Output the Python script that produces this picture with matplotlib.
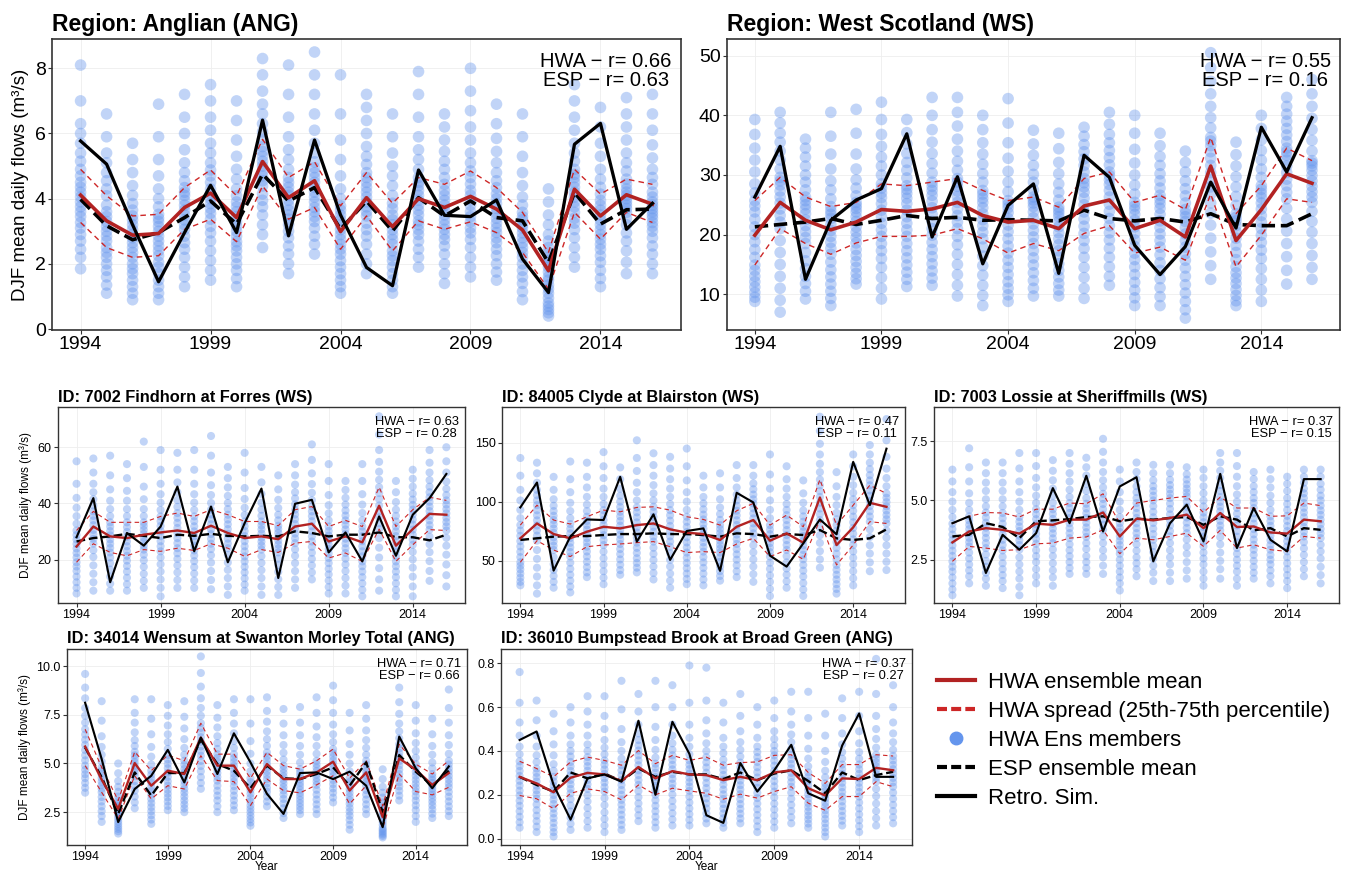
import matplotlib
matplotlib.use("Agg")
import matplotlib.pyplot as plt
from matplotlib.lines import Line2D
from matplotlib.ticker import FormatStrFormatter

plt.rcParams['font.family'] = ['Liberation Sans', 'DejaVu Sans']

years = list(range(1994, 2017))
xticks = [1994, 1999, 2004, 2009, 2014]

# ---- Region: Anglian (ANG)
ang_retro = [5.77, 5.06, 3.2, 1.45, 2.96, 4.41, 2.96, 6.41, 2.86, 5.80, 3.5, 1.89, 1.33,
             4.88, 3.49, 3.45, 3.96, 2.15, 1.12, 5.67, 6.31, 3.06, 3.86]
ang_hwa = [4.11, 3.32, 2.88, 2.93, 3.73, 4.17, 3.42, 5.14, 4.03, 4.55, 2.99, 4.03, 3.14,
           4.0, 3.73, 4.07, 3.68, 3.04, 1.79, 4.29, 3.47, 4.12, 3.83]
ang_esp = [3.98, 3.17, 2.74, 2.96, 3.42, 3.93, 3.22, 4.75, 3.93, 4.34, 3.06, 3.93, 3.01,
           4.03, 3.47, 3.93, 3.42, 3.32, 2.04, 4.19, 3.22, 3.66, 3.68]
ang_q75 = [4.9, 4.09, 3.47, 3.52, 4.34, 4.88, 4.09, 5.82, 4.65, 5.13, 3.78, 4.8, 3.86,
           4.65, 4.44, 4.85, 4.34, 3.58, 2.35, 4.9, 4.14, 4.6, 4.44]
ang_q25 = [3.27, 2.5, 2.2, 2.25, 3.06, 3.37, 2.68, 4.39, 3.37, 3.73, 2.45, 3.47, 2.4,
           3.32, 3.06, 3.29, 2.96, 2.35, 1.23, 3.58, 2.76, 3.58, 3.27]
ang_members = [
    "1.85 2.2 2.45 2.7 2.9 3.1 3.27 3.45 3.6 3.75 3.9 4.05 4.2 4.35 4.5 4.7 4.9 5.15 5.4 5.7 6.0 6.3 7.0 8.1",
    "1.1 1.35 1.6 1.8 2.0 2.2 2.35 2.5 2.7 2.85 3.0 3.15 3.3 3.45 3.6 3.8 4.09 4.3 4.55 4.8 5.1 5.4 5.9 6.6",
    "0.9 1.1 1.3 1.5 1.7 1.85 2.0 2.2 2.35 2.5 2.65 2.8 2.9 3.05 3.2 3.35 3.47 3.65 3.85 4.1 4.4 4.8 5.2 5.7",
    "0.9 1.1 1.3 1.5 1.7 1.9 2.05 2.25 2.4 2.55 2.7 2.85 3.0 3.15 3.3 3.4 3.52 3.75 4.0 4.3 4.7 5.2 5.9 6.9",
    "1.3 1.6 1.9 2.2 2.45 2.65 2.85 3.06 3.2 3.35 3.5 3.65 3.8 3.95 4.1 4.2 4.34 4.55 4.8 5.1 5.5 6.0 6.5 7.2",
    "1.5 1.8 2.1 2.4 2.7 2.95 3.15 3.37 3.55 3.7 3.85 4.0 4.15 4.3 4.5 4.7 4.88 5.1 5.4 5.7 6.1 6.5 7.0 7.5",
    "1.3 1.55 1.8 2.0 2.2 2.4 2.55 2.68 2.85 3.0 3.15 3.3 3.45 3.6 3.75 3.9 4.09 4.3 4.6 4.9 5.3 5.8 6.4 7.0",
    "2.5 2.9 3.2 3.5 3.75 3.95 4.15 4.39 4.55 4.7 4.85 5.0 5.15 5.3 5.45 5.6 5.82 6.05 6.3 6.6 6.9 7.3 7.8 8.3",
    "1.7 2.0 2.3 2.55 2.8 3.0 3.2 3.37 3.5 3.65 3.8 3.95 4.1 4.2 4.35 4.5 4.65 4.9 5.2 5.5 5.9 6.5 7.2 8.1",
    "2.3 2.6 2.85 3.1 3.3 3.45 3.6 3.73 3.9 4.05 4.2 4.35 4.5 4.65 4.8 4.95 5.13 5.4 5.7 6.1 6.6 7.2 7.8 8.5",
    "1.1 1.3 1.5 1.7 1.9 2.1 2.3 2.45 2.6 2.75 2.9 3.05 3.2 3.35 3.5 3.65 3.78 4.0 4.3 4.7 5.2 5.8 6.6 7.8",
    "1.7 2.0 2.3 2.6 2.85 3.05 3.25 3.47 3.6 3.75 3.9 4.05 4.2 4.35 4.5 4.65 4.8 5.05 5.3 5.6 6.0 6.4 6.8 7.2",
    "1.1 1.3 1.5 1.7 1.9 2.1 2.25 2.4 2.6 2.75 2.9 3.05 3.2 3.35 3.5 3.7 3.86 4.1 4.4 4.7 5.0 5.4 5.9 6.6",
    "1.9 2.2 2.45 2.7 2.9 3.05 3.2 3.32 3.5 3.65 3.8 3.95 4.1 4.25 4.4 4.5 4.65 4.9 5.2 5.5 5.9 6.5 7.2 7.9",
    "1.4 1.7 2.0 2.3 2.55 2.75 2.9 3.06 3.2 3.35 3.5 3.65 3.8 3.95 4.1 4.25 4.44 4.65 4.9 5.15 5.45 5.8 6.2 6.6",
    "1.6 1.9 2.2 2.5 2.75 2.95 3.1 3.29 3.45 3.6 3.8 3.95 4.1 4.25 4.45 4.65 4.85 5.1 5.4 5.8 6.2 6.7 7.3 8.0",
    "1.5 1.75 2.0 2.25 2.45 2.65 2.8 2.96 3.1 3.25 3.4 3.55 3.7 3.85 4.0 4.15 4.34 4.55 4.8 5.1 5.45 5.85 6.3 6.9",
    "0.9 1.15 1.4 1.6 1.8 2.0 2.2 2.35 2.5 2.65 2.8 2.95 3.1 3.2 3.35 3.45 3.58 3.8 4.05 4.4 4.8 5.3 5.9 6.6",
    "0.4 0.5 0.6 0.7 0.8 0.95 1.1 1.23 1.35 1.5 1.6 1.75 1.9 2.0 2.1 2.2 2.35 2.5 2.7 2.9 3.2 3.5 3.9 4.3",
    "1.9 2.2 2.5 2.8 3.05 3.25 3.4 3.58 3.75 3.9 4.05 4.2 4.35 4.5 4.65 4.75 4.9 5.15 5.4 5.7 6.1 6.5 7.0 7.5",
    "1.3 1.55 1.8 2.05 2.25 2.45 2.6 2.76 2.9 3.05 3.2 3.35 3.5 3.65 3.8 3.95 4.14 4.35 4.6 4.9 5.3 5.7 6.2 6.8",
    "1.7 2.05 2.4 2.7 2.95 3.2 3.4 3.58 3.7 3.8 3.9 4.0 4.1 4.2 4.3 4.45 4.6 4.85 5.1 5.4 5.8 6.2 6.6 7.1",
    "1.7 2.0 2.3 2.55 2.8 3.0 3.15 3.27 3.4 3.5 3.6 3.7 3.8 3.9 4.05 4.2 4.44 4.65 4.9 5.25 5.65 6.1 6.6 7.2",
]

# ---- Region: West Scotland (WS)
ws_retro = [26.3, 34.8, 12.5, 22.4, 25.8, 27.7, 36.9, 19.6, 29.7, 15.1, 24.9, 28.5, 13.5,
            33.3, 29.6, 18.2, 13.3, 18.0, 28.8, 21.1, 38.0, 30.5, 39.6]
ws_hwa = [19.9, 25.4, 22.4, 20.8, 22.1, 24.2, 23.9, 24.3, 25.4, 23.2, 22.1, 22.4, 21.0,
          24.8, 25.8, 21.0, 22.4, 19.6, 31.5, 19.0, 24.2, 30.2, 28.6]
ws_esp = [21.3, 21.7, 22.1, 22.7, 21.7, 22.4, 23.2, 22.7, 22.9, 22.4, 22.5, 22.4, 22.3,
          24.1, 22.7, 22.3, 22.7, 22.1, 23.5, 21.7, 21.5, 21.5, 23.5]
ws_q75 = [25.7, 29.6, 26.3, 24.7, 25.4, 28.5, 28.2, 28.8, 29.4, 27.4, 25.7, 26.3, 24.6,
          29.4, 30.5, 25.4, 26.6, 24.2, 36.3, 23.5, 28.2, 34.5, 32.4]
ws_q25 = [14.9, 21.0, 18.5, 16.7, 18.6, 19.7, 19.7, 19.9, 21.0, 19.3, 16.9, 18.5, 17.3,
          20.2, 21.5, 16.9, 17.9, 15.7, 26.8, 14.6, 19.9, 26.0, 25.4]
ws_members = [
    "8.8 9.5 10.3 11.2 12.1 13 14 14.9 16.2 17.5 18.8 20 21.3 22.6 23.8 24.8 25.7 27 28.5 30.5 32.5 34.5 36.8 39.3",
    "7 9 11 13 15 17 19 21 22.1 23.2 24.3 25.3 26.3 27.3 28.3 29 29.6 31 32.5 34 35.5 37 38.7 40.5",
    "9.2 10.5 11.8 13 14.3 15.6 17 18.5 19.5 20.5 21.5 22.5 23.5 24.3 25 25.7 26.3 27.5 28.8 30 31.5 33 34.5 36",
    "8.1 9.3 10.5 11.7 12.9 14.1 15.4 16.7 17.7 18.7 19.7 20.7 21.7 22.7 23.4 24 24.7 26 27.5 29 31 33.5 36.5 40.5",
    "11.7 12.6 13.5 14.5 15.5 16.5 17.5 18.6 19.5 20.4 21.3 22.2 23 23.8 24.4 24.9 25.4 26.5 27.8 29.2 31 33.5 37 41",
    "9.2 11 12.8 14.5 16 17.3 18.5 19.7 20.8 21.9 23 24.1 25.2 26.2 27 27.8 28.5 30 31.5 33 34.8 36.8 39.3 42.2",
    "11.3 12.5 13.7 14.9 16.1 17.3 18.5 19.7 20.8 21.9 23 24.1 25.2 26.1 26.9 27.6 28.2 29.5 30.8 32.1 33.6 35.2 37.1 39.3",
    "11.5 12.7 13.9 15.1 16.3 17.5 18.7 19.9 21 22.2 23.4 24.5 25.6 26.6 27.4 28.1 28.8 30.3 31.9 33.6 35.5 37.6 40 43",
    "9.7 11.5 13.3 15 16.7 18.3 19.7 21 22.1 23.2 24.3 25.4 26.4 27.3 28.1 28.8 29.4 30.8 32.3 34 36 38.2 40.5 43",
    "8.1 9.8 11.5 13.2 14.8 16.4 17.9 19.3 20.4 21.5 22.5 23.5 24.5 25.4 26.1 26.8 27.4 28.8 30.2 31.8 33.5 35.4 37.6 40",
    "8.8 9.9 11 12.1 13.3 14.5 15.7 16.9 18.1 19.3 20.5 21.6 22.7 23.7 24.5 25.1 25.7 27.2 28.8 30.6 32.8 35.4 38.7 42.8",
    "9.7 11 12.3 13.6 14.9 16.1 17.3 18.5 19.6 20.7 21.8 22.8 23.8 24.7 25.3 25.8 26.3 27.5 28.8 30.1 31.6 33.3 35.2 37.5",
    "9.7 10.7 11.8 12.9 14 15.1 16.2 17.3 18.3 19.3 20.3 21.3 22.2 23 23.6 24.1 24.6 25.8 27.1 28.5 30.2 32.1 34.4 37",
    "9.3 11 12.8 14.5 16.2 17.7 19 20.2 21.4 22.6 23.8 25 26.1 27.1 28 28.7 29.4 30.5 31.6 32.7 33.9 35.1 36.5 38",
    "11.5 13 14.6 16.2 17.7 19.1 20.3 21.5 22.7 23.9 25.1 26.3 27.4 28.4 29.2 29.9 30.5 31.7 32.9 34.1 35.4 36.8 38.5 40.5",
    "8.1 9.4 10.7 12 13.3 14.6 15.8 16.9 18 19.1 20.2 21.3 22.4 23.4 24.2 24.8 25.4 26.8 28.3 30 32 34.3 37 40",
    "8.1 9.6 11.1 12.6 14 15.3 16.6 17.9 19 20.1 21.2 22.3 23.4 24.4 25.2 25.9 26.6 27.8 29 30.2 31.6 33.1 34.9 37",
    "6 7.4 8.8 10.2 11.6 13 14.4 15.7 16.8 17.9 19 20.1 21.2 22.2 23 23.6 24.2 25.3 26.5 27.7 29 30.5 32.1 34",
    "12.5 14.8 17.1 19.4 21.6 23.6 25.3 26.8 28 29.2 30.4 31.6 32.8 33.9 34.9 35.7 36.3 37.9 39.6 41.5 43.6 45.7 48 50.5",
    "8.1 8.9 9.8 10.8 11.8 12.7 13.6 14.6 15.8 17 18.2 19.4 20.5 21.5 22.3 22.9 23.5 24.9 26.4 28 29.7 31.5 33.4 35.5",
    "8.8 10.7 12.5 14.3 16 17.4 18.7 19.9 21 22.1 23.2 24.3 25.3 26.2 26.9 27.6 28.2 29.6 31 32.5 34.1 35.9 37.8 40",
    "11.7 14 16.3 18.5 20.6 22.6 24.4 26 27.1 28.2 29.3 30.4 31.5 32.5 33.3 33.9 34.5 35.6 36.7 37.8 39 40.2 41.5 43",
    "12.5 14.5 16.5 18.5 20.4 22.2 23.9 25.4 26.3 27.2 28.1 29 29.9 30.8 31.5 32 32.4 34 35.8 37.6 39.5 41.5 43.6 46",
]

# ---- ID: 7002 Findhorn at Forres (WS)
fin_retro = [28.0, 41.9, 12.0, 29.5, 25.0, 31.8, 46.0, 23.0, 38.9, 19.1, 33.0, 45.3, 13.5,
             39.9, 41.3, 22.6, 29.7, 19.4, 35.4, 21.4, 36.0, 41.9, 50.5]
fin_hwa = [24.7, 31.8, 28.3, 27.7, 28.9, 29.7, 30.4, 29.5, 32.1, 29.5, 27.7, 28.3, 27.3,
           31.8, 32.8, 26.5, 28.3, 26.2, 39.2, 25.0, 30.9, 36.3, 36.0]
fin_esp = [26.5, 27.7, 28.3, 29.2, 28.5, 27.7, 28.9, 28.5, 29.2, 28.5, 28.3, 28.5, 28.3,
           30.1, 29.5, 28.3, 28.9, 28.9, 29.7, 28.0, 28.0, 26.9, 28.9]
fin_q75 = [30.4, 37.2, 33.3, 33.3, 33.3, 35.4, 36.6, 35.4, 37.8, 36.0, 33.6, 33.6, 32.1,
           37.8, 38.9, 31.8, 34.0, 31.8, 45.8, 31.8, 37.8, 42.2, 41.1]
fin_q25 = [19.1, 25.7, 22.6, 21.4, 23.6, 23.0, 24.1, 23.3, 25.7, 24.1, 21.2, 23.6, 22.6,
           25.9, 26.5, 20.6, 22.4, 19.4, 30.9, 19.4, 25.3, 30.7, 30.4]
fin_members = [
    "8 10 12 14 16 17.6 19.1 20.8 22.4 24 25.6 27.2 28.8 30.4 32.8 35.5 38.5 42 47 55",
    "9 12 15 18 21 23.4 25.7 27.4 29 30.6 32.3 34 35.6 37.2 39.3 41.5 44 47 51 56",
    "9 11.5 14 16.5 18.8 20.8 22.6 24.2 25.7 27.2 28.7 30.2 31.8 33.3 35.5 38 41 45 50 57",
    "9 11.3 13.6 15.8 17.8 19.7 21.4 23.1 24.8 26.5 28.2 29.9 31.6 33.3 35.5 38 41 44.5 49 54",
    "10 12.5 15 17.5 19.8 21.8 23.6 25 26.4 27.8 29.2 30.6 32 33.3 35.5 38 41.5 46 53 62",
    "7 10 13 15.8 18.4 20.8 23 24.8 26.6 28.4 30.2 32 33.7 35.4 37.7 40.3 43.3 47 52 59",
    "10 12.8 15.5 18 20.3 22.3 24.1 25.9 27.7 29.5 31.3 33.1 34.9 36.6 38.8 41.2 44 47.5 52 58",
    "10 12.6 15.1 17.4 19.5 21.5 23.3 25 26.7 28.4 30.1 31.9 33.7 35.4 37.7 40.3 43.3 47 52 59",
    "9.5 12.8 16 19 21.6 23.8 25.7 27.4 29.1 30.8 32.6 34.4 36.1 37.8 40.2 43 46.5 51 57 64",
    "7.5 10.5 13.5 16.4 19 21.7 24.1 25.8 27.5 29.2 30.9 32.6 34.3 36 38 40.2 42.7 45.7 49 53",
    "9 11.2 13.4 15.5 17.5 19.4 21.2 23 24.8 26.6 28.4 30.2 31.9 33.6 35.9 38.5 41.6 45.5 51 58",
    "7.5 10.5 13.5 16.3 18.9 21.3 23.6 25 26.4 27.8 29.3 30.8 32.2 33.6 35.6 37.8 40.3 43.4 47.5 53",
    "7.5 10.3 13.1 15.7 18.1 20.4 22.6 24 25.4 26.8 28.2 29.6 30.9 32.1 34 36 38.4 41.3 45 50",
    "10 13 16 18.8 21.4 23.7 25.9 27.6 29.3 31 32.7 34.4 36.1 37.8 39.7 41.8 44 46.7 50 54",
    "13 15.5 18 20.3 22.5 24.6 26.5 28.3 30.1 31.9 33.7 35.5 37.2 38.9 41.2 43.8 46.9 50.7 55.5 61",
    "8 10.3 12.6 14.8 16.8 18.8 20.6 22.2 23.8 25.4 27 28.6 30.2 31.8 34 36.5 39.4 43 48 54",
    "8 10.8 13.5 16 18.3 20.4 22.4 24.1 25.8 27.5 29.2 30.8 32.4 34 35.7 37.5 39.6 42 44.8 48",
    "7 9.3 11.6 13.8 15.8 17.7 19.4 21.2 23 24.8 26.6 28.4 30.1 31.8 34 36.6 39.6 43.3 48 54",
    "9 13 17 20.8 24.3 27.7 30.9 33 35.1 37.2 39.3 41.5 43.7 45.8 48.4 51.3 54.8 59 64.5 71",
    "7 9.3 11.6 13.8 15.8 17.7 19.4 21.2 23 24.8 26.6 28.4 30.1 31.8 33.6 35.6 37.8 40.5 44 48",
    "7 10.5 14 17.2 20.1 22.8 25.3 27.1 28.9 30.7 32.5 34.3 36.1 37.8 39.5 41.4 43.5 46 48.8 52",
    "12.5 16 19.5 22.7 25.5 28.2 30.7 32.3 34 35.6 37.3 38.9 40.6 42.2 44 46 48.3 51 54.5 59",
    "10.5 14.5 18.3 21.8 25 27.8 30.4 31.9 33.4 34.9 36.5 38 39.6 41.1 43 45.2 47.8 51 55 60",
]

# ---- ID: 84005 Clyde at Blairston (WS)
cly_retro = [95.1, 116.2, 41.5, 70.3, 84.9, 84.4, 121.0, 66.1, 89.2, 50.6, 75.1, 77.3, 41.3,
             107.5, 99.3, 54.2, 44.9, 64.6, 84.9, 72.3, 133.7, 97.0, 144.9]
cly_hwa = [68.9, 81.5, 72.5, 68.9, 74.5, 78.7, 77.3, 80.1, 81.5, 76.5, 73.7, 72.5, 67.5,
           78.7, 84.4, 66.9, 73.1, 65.2, 103.5, 63.2, 78.2, 99.0, 95.6]
cly_esp = [67.5, 68.9, 70.3, 70.8, 70.8, 71.7, 72.5, 72.5, 73.1, 72.5, 72.5, 71.7, 70.3,
           73.1, 72.5, 70.3, 72.5, 71.7, 75.9, 68.9, 67.5, 68.9, 76.5]
cly_q75 = [80.1, 97.0, 84.4, 81.0, 87.2, 92.8, 91.4, 95.1, 95.6, 92.8, 87.2, 84.9, 80.1,
           92.3, 98.5, 80.1, 88.6, 78.7, 118.7, 80.1, 97.0, 113.9, 106.9]
cly_q25 = [48.6, 66.9, 59.0, 53.4, 61.8, 63.2, 64.1, 65.2, 66.1, 61.8, 56.8, 57.6, 56.8,
           64.1, 68.9, 53.4, 59.0, 51.1, 84.4, 46.3, 63.2, 83.0, 81.5]
cly_members = [
    "29 32 35.5 39 42.5 45.6 48.6 53 57.5 62 66.5 71 75.5 80.1 86 93 101 110 122 137",
    "22 29 36.5 44 51.5 59 66.9 71.2 75.5 79.8 84.1 88.4 92.7 97 101 105.5 110 116 124 133",
    "27 32 37 42 47 53 59 62.6 66.2 69.8 73.5 77.2 80.8 84.4 88 92 96.5 102 110 121",
    "23 28 33 38 43 48.2 53.4 57.3 61.2 65.1 69.1 73.1 77 81 86 92 99 108 119 134",
    "36 40 44.5 49 53.5 57.7 61.8 65.4 69 72.6 76.3 80 83.6 87.2 92 97.5 104 112 121 133",
    "30 35.5 41 46.5 52 57.6 63.2 67.4 71.6 75.8 80.1 84.4 88.6 92.8 98 104 111 120 130 142",
    "38 42 46.5 51 55.5 59.8 64.1 68 71.9 75.8 79.7 83.6 87.5 91.4 95.5 100 105 111 119 129",
    "40 44 48 52 56.5 60.8 65.2 69.5 73.8 78.1 82.4 86.7 90.9 95.1 101 108 116 126 137 152",
    "34 39.5 45 50.5 55.7 60.9 66.1 70.3 74.5 78.7 82.9 87.1 91.4 95.6 101 107 114 122 131 141",
    "27 33 39 45 50.6 56.2 61.8 66.2 70.6 75 79.4 83.9 88.4 92.8 98 104 111 119 128 138",
    "30 34.5 39 43.5 48 52.4 56.8 61.1 65.4 69.8 74.2 78.6 82.9 87.2 93 100 108 118 130 145",
    "29 34 39 43.8 48.5 53 57.6 61.5 65.4 69.3 73.2 77.1 81 84.9 89 93.5 98.5 104 112 122",
    "33 37 41 45 49 52.9 56.8 60.1 63.4 66.8 70.1 73.4 76.8 80.1 84.5 89.5 95 102 112 124",
    "36 41 46 50.8 55.3 59.7 64.1 68.1 72.1 76.2 80.2 84.2 88.3 92.3 96.5 101 106 112 120 131",
    "32 38.5 45 51 57 63 68.9 73.1 77.4 81.6 85.8 90 94.3 98.5 102 106 110.5 115.5 122 131",
    "20 26 32 37.5 43 48.2 53.4 57.2 61 64.8 68.6 72.4 76.3 80.1 86 93 101 111 123 140",
    "27 32.5 38 43.3 48.5 53.8 59 63.2 67.4 71.7 75.9 80.1 84.4 88.6 93 98 104 111 119 130",
    "20 25.5 31 36.5 41.5 46.3 51.1 55 59 62.9 66.8 70.8 74.8 78.7 83 87.5 92.5 99 107 118",
    "44 51 58 65 71.5 78 84.4 89.3 94.2 99.1 104 108.9 113.8 118.7 125 132 140 149 160 172",
    "22 26 30 34 38 42.2 46.3 51.1 55.9 60.7 65.6 70.4 75.3 80.1 85 90.5 97 104 113 125",
    "29 35 41 46.8 52.4 57.8 63.2 68 72.8 77.7 82.5 87.3 92.2 97 102 107.5 114 121 130 140",
    "41 48.5 56 63 70 76.5 83 87.4 91.8 96.2 100.6 105 109.5 113.9 118 122.5 127.5 133 140 148",
    "42 49 56 63 69.5 75.5 81.5 85.1 88.7 92.4 96 99.6 103.3 106.9 113 120 128 138 152 170",
]

# ---- ID: 7003 Lossie at Sheriffmills (WS)
los_retro = [4.04, 4.33, 1.94, 3.55, 2.92, 3.62, 5.52, 4.04, 6.04, 3.69, 5.59, 5.98, 2.43,
             4.04, 4.82, 3.27, 6.12, 2.99, 4.68, 3.34, 2.85, 5.90, 5.90]
los_hwa = [3.23, 3.69, 3.83, 3.76, 3.60, 4.02, 3.97, 4.19, 4.19, 4.49, 3.48, 4.23, 4.16,
           4.26, 4.40, 3.83, 4.47, 3.88, 3.90, 3.65, 3.60, 4.19, 4.12]
los_esp = [3.48, 3.55, 4.04, 3.88, 3.41, 4.12, 4.16, 4.21, 4.30, 4.33, 4.12, 4.23, 4.19,
           4.26, 4.30, 3.97, 4.33, 4.19, 3.74, 3.83, 3.48, 3.83, 3.76]
los_q75 = [4.02, 4.33, 4.49, 4.47, 4.30, 4.63, 4.63, 4.89, 4.86, 5.28, 4.04, 4.89, 5.0,
           5.10, 5.17, 4.49, 5.14, 4.68, 4.68, 4.33, 4.35, 4.89, 4.78]
los_q25 = [2.43, 3.06, 2.99, 2.89, 2.92, 3.17, 3.20, 3.41, 3.46, 3.76, 2.75, 3.41, 3.34,
           3.48, 3.62, 3.06, 3.74, 2.99, 3.13, 2.92, 2.85, 3.48, 3.41]
los_members = [
    "1.0 1.25 1.5 1.75 2.0 2.2 2.43 2.66 2.88 3.1 3.33 3.56 3.79 4.02 4.3 4.6 4.95 5.35 5.8 6.3",
    "1.5 1.8 2.05 2.3 2.55 2.8 3.06 3.24 3.42 3.6 3.79 3.97 4.15 4.33 4.6 4.9 5.3 5.8 6.4 7.2",
    "1.4 1.7 1.95 2.2 2.45 2.72 2.99 3.2 3.42 3.63 3.85 4.06 4.28 4.49 4.75 5.05 5.4 5.75 6.15 6.6",
    "1.3 1.6 1.85 2.1 2.35 2.62 2.89 3.12 3.34 3.57 3.8 4.02 4.25 4.47 4.75 5.05 5.4 5.75 6.15 6.6",
    "1.0 1.35 1.7 2.0 2.3 2.6 2.92 3.12 3.32 3.51 3.71 3.9 4.1 4.3 4.6 4.95 5.35 5.8 6.35 7.0",
    "1.5 1.8 2.1 2.4 2.65 2.9 3.17 3.38 3.59 3.8 4.0 4.21 4.42 4.63 4.9 5.2 5.55 5.95 6.45 7.0",
    "1.4 1.75 2.05 2.35 2.65 2.93 3.2 3.4 3.61 3.81 4.02 4.22 4.43 4.63 4.9 5.2 5.5 5.85 6.25 6.7",
    "1.9 2.15 2.4 2.65 2.9 3.15 3.41 3.62 3.83 4.04 4.26 4.47 4.68 4.89 5.15 5.45 5.8 6.15 6.55 7.0",
    "1.9 2.15 2.4 2.65 2.95 3.2 3.46 3.66 3.86 4.06 4.26 4.46 4.66 4.86 5.1 5.4 5.7 6.05 6.4 6.8",
    "1.9 2.25 2.6 2.9 3.2 3.48 3.76 3.98 4.2 4.41 4.63 4.85 5.06 5.28 5.55 5.85 6.2 6.6 7.05 7.6",
    "1.2 1.5 1.75 2.0 2.25 2.5 2.75 2.93 3.12 3.3 3.48 3.67 3.85 4.04 4.3 4.6 4.95 5.35 5.8 6.3",
    "1.8 2.1 2.35 2.6 2.88 3.15 3.41 3.62 3.83 4.04 4.26 4.47 4.68 4.89 5.1 5.35 5.6 5.9 6.2 6.6",
    "1.6 1.95 2.25 2.55 2.82 3.08 3.34 3.58 3.81 4.05 4.29 4.52 4.76 5.0 5.2 5.4 5.6 5.85 6.15 6.5",
    "1.6 1.95 2.3 2.6 2.9 3.2 3.48 3.71 3.94 4.17 4.41 4.64 4.87 5.1 5.28 5.46 5.65 5.87 6.15 6.5",
    "1.7 2.05 2.4 2.75 3.05 3.35 3.62 3.84 4.06 4.28 4.51 4.73 4.95 5.17 5.33 5.5 5.68 5.88 6.1 6.4",
    "1.4 1.7 2.0 2.3 2.55 2.8 3.06 3.26 3.47 3.67 3.88 4.08 4.29 4.49 4.75 5.0 5.3 5.6 5.95 6.3",
    "1.7 2.1 2.45 2.8 3.15 3.45 3.74 3.94 4.14 4.34 4.54 4.74 4.94 5.14 5.4 5.65 5.95 6.25 6.6 7.0",
    "1.4 1.7 2.0 2.25 2.5 2.75 2.99 3.23 3.47 3.71 3.95 4.2 4.44 4.68 4.95 5.25 5.6 6.0 6.45 7.0",
    "1.7 1.95 2.2 2.45 2.7 2.92 3.13 3.35 3.57 3.79 4.02 4.24 4.46 4.68 4.9 5.1 5.35 5.6 5.9 6.2",
    "1.5 1.8 2.05 2.3 2.5 2.7 2.92 3.12 3.32 3.52 3.73 3.93 4.13 4.33 4.6 4.9 5.2 5.55 5.9 6.3",
    "1.3 1.6 1.85 2.1 2.35 2.6 2.85 3.06 3.28 3.49 3.71 3.92 4.14 4.35 4.6 4.85 5.1 5.4 5.7 6.0",
    "1.8 2.1 2.4 2.7 2.98 3.24 3.48 3.68 3.88 4.08 4.29 4.49 4.69 4.89 5.1 5.3 5.5 5.75 6.0 6.3",
    "1.5 1.85 2.2 2.55 2.85 3.13 3.41 3.61 3.8 4.0 4.19 4.39 4.58 4.78 5.0 5.2 5.45 5.7 6.0 6.3",
]

# ---- ID: 34014 Wensum at Swanton Morley Total (ANG)
wen_retro = [8.12, 5.23, 1.99, 3.69, 4.37, 5.70, 4.03, 6.33, 4.46, 6.55, 5.06, 3.44, 2.41,
             4.51, 4.54, 4.20, 4.58, 3.86, 1.73, 6.38, 4.75, 3.73, 4.85]
wen_hwa = [5.87, 4.17, 2.67, 5.02, 3.86, 4.63, 4.46, 6.33, 4.89, 4.89, 3.52, 4.97, 4.20,
           4.20, 4.54, 5.09, 3.61, 4.54, 2.24, 5.26, 4.68, 3.90, 4.51]
wen_esp = [5.82, 4.29, 2.41, 4.54, 3.35, 4.51, 4.51, 6.21, 4.97, 4.63, 3.73, 4.89, 4.24,
           4.20, 4.46, 4.80, 3.86, 5.06, 2.50, 5.43, 4.58, 3.86, 4.63]
wen_q75 = [6.76, 4.80, 3.10, 5.60, 4.63, 5.43, 5.14, 7.07, 5.48, 5.48, 4.24, 5.57, 4.89,
           4.71, 5.14, 5.74, 4.24, 5.14, 2.81, 5.99, 4.97, 4.46, 5.14]
wen_q25 = [4.89, 3.52, 2.16, 4.37, 3.18, 3.86, 3.69, 5.40, 4.12, 4.07, 2.84, 4.20, 3.61,
           3.49, 3.90, 4.37, 2.93, 3.86, 1.68, 4.46, 3.56, 3.39, 3.78]
wen_members = [
    "3.5 3.75 4.0 4.25 4.45 4.67 4.89 5.16 5.42 5.69 5.96 6.22 6.49 6.76 7.1 7.45 7.85 8.35 8.9 9.6",
    "2.0 2.3 2.55 2.8 3.05 3.28 3.52 3.7 3.89 4.07 4.25 4.43 4.62 4.8 5.1 5.45 5.85 6.4 7.2 8.2",
    "1.4 1.52 1.64 1.76 1.89 2.02 2.16 2.29 2.43 2.56 2.7 2.83 2.97 3.1 3.3 3.55 3.8 4.1 4.5 5.0",
    "2.7 3.0 3.3 3.6 3.85 4.1 4.37 4.55 4.72 4.9 5.07 5.25 5.42 5.6 5.9 6.2 6.6 7.1 7.6 8.3",
    "1.9 2.12 2.34 2.55 2.76 2.97 3.18 3.39 3.59 3.8 4.01 4.21 4.42 4.63 4.95 5.35 5.85 6.5 7.3 8.3",
    "2.6 2.82 3.04 3.25 3.45 3.65 3.86 4.08 4.31 4.53 4.76 4.98 5.21 5.43 5.75 6.1 6.5 6.95 7.45 8.0",
    "2.5 2.7 2.9 3.1 3.3 3.5 3.69 3.9 4.1 4.31 4.52 4.72 4.93 5.14 5.45 5.8 6.25 6.8 7.4 8.2",
    "3.7 4.0 4.3 4.6 4.87 5.13 5.4 5.64 5.88 6.12 6.35 6.59 6.83 7.07 7.45 7.85 8.35 8.95 9.65 10.5",
    "2.5 2.8 3.1 3.35 3.6 3.86 4.12 4.31 4.51 4.7 4.9 5.09 5.29 5.48 5.75 6.05 6.4 6.85 7.35 8.0",
    "2.6 2.85 3.1 3.35 3.6 3.84 4.07 4.27 4.47 4.67 4.88 5.08 5.28 5.48 5.8 6.15 6.55 7.05 7.6 8.3",
    "1.8 1.97 2.14 2.32 2.5 2.67 2.84 3.04 3.24 3.44 3.64 3.84 4.04 4.24 4.6 5.0 5.5 6.15 7.05 8.3",
    "2.8 3.05 3.3 3.55 3.75 3.98 4.2 4.4 4.59 4.79 4.98 5.18 5.37 5.57 5.9 6.25 6.65 7.15 7.7 8.4",
    "2.2 2.45 2.7 2.95 3.18 3.4 3.61 3.79 3.98 4.16 4.34 4.52 4.71 4.89 5.2 5.55 5.95 6.45 7.05 7.8",
    "2.4 2.6 2.78 2.96 3.14 3.32 3.49 3.66 3.84 4.01 4.19 4.36 4.54 4.71 5.05 5.45 5.9 6.45 7.1 7.9",
    "2.4 2.65 2.9 3.15 3.4 3.65 3.9 4.08 4.25 4.43 4.61 4.79 4.96 5.14 5.5 5.9 6.35 6.9 7.6 8.4",
    "3.0 3.25 3.5 3.72 3.94 4.15 4.37 4.57 4.76 4.96 5.15 5.35 5.54 5.74 6.1 6.5 7.0 7.6 8.25 9.0",
    "1.6 1.85 2.1 2.32 2.52 2.72 2.93 3.12 3.3 3.49 3.68 3.87 4.05 4.24 4.6 5.0 5.45 6.0 6.7 7.6",
    "2.4 2.65 2.9 3.15 3.4 3.63 3.86 4.04 4.23 4.41 4.59 4.77 4.96 5.14 5.45 5.8 6.2 6.7 7.3 8.0",
    "1.2 1.28 1.36 1.44 1.52 1.6 1.68 1.84 2.0 2.16 2.33 2.49 2.65 2.81 3.0 3.25 3.5 3.8 4.2 4.7",
    "3.1 3.35 3.6 3.82 4.04 4.25 4.46 4.68 4.9 5.12 5.34 5.55 5.77 5.99 6.3 6.65 7.05 7.55 8.15 8.9",
    "2.0 2.3 2.6 2.85 3.1 3.33 3.56 3.76 3.96 4.16 4.37 4.57 4.77 4.97 5.3 5.65 6.05 6.55 7.2 8.0",
    "2.2 2.42 2.64 2.84 3.03 3.21 3.39 3.54 3.7 3.85 4.0 4.16 4.31 4.46 4.75 5.05 5.45 5.9 6.5 7.3",
    "2.3 2.55 2.8 3.05 3.3 3.54 3.78 3.97 4.17 4.36 4.56 4.75 4.95 5.14 5.5 5.95 6.45 7.1 7.85 8.8",
]

# ---- ID: 36010 Bumpstead Brook at Broad Green (ANG)
bum_retro = [0.450, 0.489, 0.245, 0.087, 0.275, 0.293, 0.260, 0.538, 0.200, 0.533, 0.387, 0.107,
             0.072, 0.345, 0.215, 0.312, 0.428, 0.207, 0.173, 0.425, 0.571, 0.282, 0.282]
bum_hwa = [0.282, 0.252, 0.212, 0.278, 0.300, 0.293, 0.263, 0.327, 0.275, 0.308, 0.293, 0.290,
           0.267, 0.282, 0.267, 0.302, 0.312, 0.230, 0.197, 0.275, 0.272, 0.323, 0.312]
bum_esp = [0.282, 0.245, 0.215, 0.302, 0.275, 0.297, 0.263, 0.320, 0.282, 0.305, 0.293, 0.293,
           0.272, 0.302, 0.267, 0.297, 0.312, 0.263, 0.207, 0.302, 0.267, 0.290, 0.305]
bum_q75 = [0.353, 0.320, 0.282, 0.350, 0.372, 0.357, 0.335, 0.402, 0.342, 0.380, 0.357, 0.372,
           0.335, 0.347, 0.350, 0.380, 0.383, 0.302, 0.252, 0.338, 0.338, 0.383, 0.377]
bum_q25 = [0.197, 0.182, 0.137, 0.207, 0.227, 0.215, 0.177, 0.245, 0.200, 0.230, 0.218, 0.207,
           0.180, 0.203, 0.185, 0.215, 0.237, 0.162, 0.129, 0.192, 0.192, 0.260, 0.237]
bum_members = [
    "0.05 0.075 0.1 0.125 0.15 0.173 0.197 0.219 0.242 0.264 0.286 0.309 0.331 0.353 0.385 0.42 0.47 0.53 0.62 0.76",
    "0.03 0.055 0.08 0.105 0.13 0.156 0.182 0.202 0.221 0.241 0.261 0.281 0.3 0.32 0.35 0.38 0.42 0.47 0.54 0.63",
    "0.01 0.03 0.05 0.072 0.094 0.115 0.137 0.158 0.178 0.199 0.22 0.241 0.261 0.282 0.31 0.34 0.38 0.43 0.49 0.57",
    "0.04 0.068 0.096 0.124 0.152 0.18 0.207 0.227 0.248 0.268 0.289 0.309 0.33 0.35 0.375 0.4 0.43 0.47 0.53 0.60",
    "0.05 0.08 0.11 0.14 0.17 0.198 0.227 0.248 0.268 0.289 0.31 0.331 0.351 0.372 0.4 0.43 0.47 0.52 0.58 0.65",
    "0.03 0.06 0.09 0.12 0.153 0.185 0.215 0.235 0.256 0.276 0.296 0.316 0.337 0.357 0.385 0.415 0.45 0.5 0.56 0.65",
    "0.04 0.063 0.086 0.109 0.132 0.155 0.177 0.2 0.222 0.245 0.267 0.29 0.312 0.335 0.365 0.4 0.44 0.5 0.59 0.72",
    "0.08 0.107 0.134 0.161 0.189 0.217 0.245 0.267 0.29 0.312 0.335 0.357 0.38 0.402 0.425 0.45 0.48 0.52 0.58 0.66",
    "0.05 0.075 0.1 0.125 0.15 0.175 0.2 0.22 0.241 0.261 0.281 0.301 0.322 0.342 0.37 0.405 0.45 0.51 0.6 0.72",
    "0.06 0.088 0.116 0.144 0.172 0.201 0.23 0.251 0.273 0.294 0.316 0.337 0.359 0.38 0.405 0.435 0.47 0.52 0.6 0.70",
    "0.06 0.086 0.112 0.138 0.165 0.192 0.218 0.238 0.258 0.278 0.297 0.317 0.337 0.357 0.385 0.42 0.46 0.52 0.62 0.79",
    "0.07 0.092 0.115 0.138 0.161 0.184 0.207 0.231 0.254 0.278 0.301 0.325 0.348 0.372 0.4 0.435 0.48 0.54 0.63 0.78",
    "0.05 0.072 0.093 0.115 0.137 0.158 0.18 0.202 0.224 0.246 0.269 0.291 0.313 0.335 0.36 0.39 0.42 0.46 0.53 0.62",
    "0.07 0.092 0.114 0.136 0.158 0.18 0.203 0.224 0.244 0.265 0.285 0.306 0.326 0.347 0.375 0.405 0.44 0.49 0.56 0.66",
    "0.03 0.056 0.082 0.108 0.134 0.16 0.185 0.209 0.232 0.256 0.279 0.303 0.326 0.35 0.372 0.395 0.42 0.46 0.52 0.60",
    "0.05 0.078 0.105 0.133 0.16 0.188 0.215 0.239 0.262 0.286 0.309 0.333 0.356 0.38 0.4 0.425 0.455 0.49 0.55 0.63",
    "0.07 0.098 0.126 0.154 0.182 0.21 0.237 0.258 0.279 0.3 0.321 0.341 0.362 0.383 0.41 0.44 0.475 0.52 0.58 0.67",
    "0.05 0.069 0.088 0.106 0.125 0.144 0.162 0.182 0.202 0.222 0.242 0.262 0.282 0.302 0.33 0.365 0.41 0.47 0.55 0.67",
    "0.01 0.03 0.05 0.07 0.09 0.11 0.129 0.147 0.164 0.182 0.199 0.217 0.234 0.252 0.28 0.31 0.35 0.4 0.47 0.57",
    "0.06 0.082 0.104 0.126 0.148 0.17 0.192 0.213 0.234 0.255 0.275 0.296 0.317 0.338 0.365 0.395 0.43 0.48 0.55 0.64",
    "0.03 0.057 0.084 0.111 0.138 0.165 0.192 0.213 0.234 0.255 0.275 0.296 0.317 0.338 0.365 0.395 0.435 0.49 0.56 0.67",
    "0.06 0.093 0.126 0.16 0.194 0.227 0.26 0.278 0.295 0.313 0.33 0.348 0.365 0.383 0.415 0.455 0.5 0.56 0.66 0.82",
    "0.07 0.098 0.126 0.154 0.182 0.21 0.237 0.257 0.277 0.297 0.317 0.337 0.357 0.377 0.405 0.44 0.48 0.53 0.6 0.70",
]

BLUE = '#6495ED'
RED = '#B22222'
SPREAD_RED = '#CD2626'
YLABEL = 'DJF mean daily flows (m³/s)'


def draw_panel(ax, retro, hwa, esp, q25, q75, members, title, r_hwa, r_esp,
               ylim, yticks, fmt, big=False, ylabel=False, xlabel=False):
    xs, ys = [], []
    for yr, row in zip(years, members):
        vals = [float(v) for v in row.split()]
        xs += [yr] * len(vals)
        ys += vals

    lw_main = 2.6 if big else 1.7
    ax.scatter(xs, ys, s=70 if big else 34, color=BLUE, alpha=0.4,
               edgecolors='none', zorder=2)
    ax.plot(years, q75, color=SPREAD_RED, lw=1.0 if big else 0.8,
            dashes=(4, 3), zorder=3)
    ax.plot(years, q25, color=SPREAD_RED, lw=1.0 if big else 0.8,
            dashes=(4, 3), zorder=3)
    ax.plot(years, esp, color='black', lw=lw_main, ls='--', zorder=4)
    ax.plot(years, hwa, color=RED, lw=lw_main, zorder=5)
    ax.plot(years, retro, color='black', lw=lw_main * 0.9, zorder=6)

    ax.set_xlim(1992.9, 2017.1)
    ax.set_ylim(*ylim)
    ax.set_xticks(xticks)
    ax.set_yticks(yticks)
    ax.yaxis.set_major_formatter(FormatStrFormatter(fmt))
    ax.grid(True, color='#EEEEEE', lw=0.6, zorder=0)
    ax.set_axisbelow(True)

    tsize = 14 if big else 9
    ax.tick_params(labelsize=tsize, length=3, width=0.8, color='#333333', pad=1.5)
    for sp in ax.spines.values():
        sp.set_color('#333333')
        sp.set_linewidth(1.2 if big else 1.0)

    ax.set_title(title, loc='left', fontweight='bold',
                 fontsize=16.5 if big else 11.8, pad=6 if big else 4)
    ax.text(0.985, 0.955, f'HWA \u2212 r= {r_hwa}\nESP \u2212 r= {r_esp}',
            transform=ax.transAxes, ha='right', va='top', multialignment='center',
            fontsize=14.5 if big else 9.3, linespacing=1.0, zorder=7)
    if ylabel:
        ax.set_ylabel(YLABEL, fontsize=13.5 if big else 8.5)
    if xlabel:
        ax.set_xlabel('Year', fontsize=8.5, labelpad=-1.5)


fig = plt.figure(figsize=(13.47, 8.74), dpi=100)

ax1 = fig.add_axes([0.0386, 0.6224, 0.467, 0.333])
draw_panel(ax1, ang_retro, ang_hwa, ang_esp, ang_q25, ang_q75, ang_members,
           'Region: Anglian (ANG)', '0.66', '0.63', (-0.03, 8.9), [0, 2, 4, 6, 8], '%d',
           big=True, ylabel=True)

ax2 = fig.add_axes([0.5397, 0.6224, 0.455, 0.333])
draw_panel(ax2, ws_retro, ws_hwa, ws_esp, ws_q25, ws_q75, ws_members,
           'Region: West Scotland (WS)', '0.55', '0.16', (4.0, 52.8), [10, 20, 30, 40, 50], '%d',
           big=True)

ax3 = fig.add_axes([0.0431, 0.310, 0.302, 0.224])
draw_panel(ax3, fin_retro, fin_hwa, fin_esp, fin_q25, fin_q75, fin_members,
           'ID: 7002 Findhorn at Forres (WS)', '0.63', '0.28', (4.6, 74.2), [20, 40, 60], '%d',
           ylabel=True)

ax4 = fig.add_axes([0.3727, 0.310, 0.299, 0.224])
draw_panel(ax4, cly_retro, cly_hwa, cly_esp, cly_q25, cly_q75, cly_members,
           'ID: 84005 Clyde at Blairston (WS)', '0.47', '0.11', (14, 180), [50, 100, 150], '%d')

ax5 = fig.add_axes([0.6934, 0.310, 0.3007, 0.224])
draw_panel(ax5, los_retro, los_hwa, los_esp, los_q25, los_q75, los_members,
           'ID: 7003 Lossie at Sheriffmills (WS)', '0.37', '0.15', (0.67, 8.93), [2.5, 5.0, 7.5], '%.1f')

ax6 = fig.add_axes([0.0497, 0.0329, 0.297, 0.2245])
draw_panel(ax6, wen_retro, wen_hwa, wen_esp, wen_q25, wen_q75, wen_members,
           'ID: 34014 Wensum at Swanton Morley Total (ANG)', '0.71', '0.66', (0.8, 10.88),
           [2.5, 5.0, 7.5, 10.0], '%.1f', ylabel=True, xlabel=True)

ax7 = fig.add_axes([0.3719, 0.0329, 0.305, 0.2245])
draw_panel(ax7, bum_retro, bum_hwa, bum_esp, bum_q25, bum_q75, bum_members,
           'ID: 36010 Bumpstead Brook at Broad Green (ANG)', '0.37', '0.27', (-0.03, 0.865),
           [0.0, 0.2, 0.4, 0.6, 0.8], '%.1f', xlabel=True)

# legend in the empty bottom-right slot
handles = [
    Line2D([], [], color=RED, lw=3),
    Line2D([], [], color=SPREAD_RED, lw=3, dashes=(2.4, 1.0)),
    Line2D([], [], color=BLUE, marker='o', ls='none', markersize=9),
    Line2D([], [], color='black', lw=3, dashes=(2.4, 1.0)),
    Line2D([], [], color='black', lw=3),
]
labels = ['HWA ensemble mean', 'HWA spread (25th-75th percentile)', 'HWA Ens members',
          'ESP ensemble mean', 'Retro. Sim.']
fig.legend(handles, labels, loc='upper left', bbox_to_anchor=(0.6956, 0.231),
           frameon=False, fontsize=16, handlelength=1.7, handletextpad=0.6,
           labelspacing=0.36, borderaxespad=0, borderpad=0)

fig.savefig('out.png', dpi=100)
